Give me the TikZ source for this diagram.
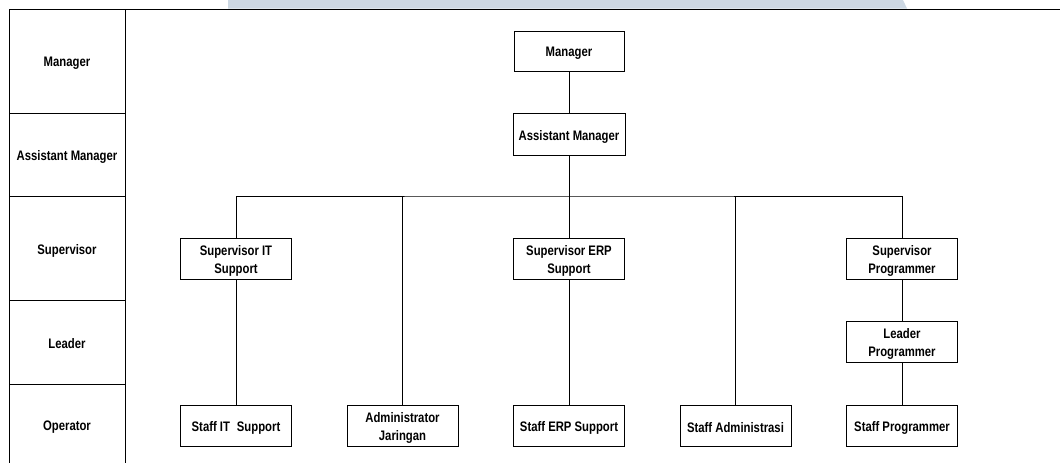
\documentclass[tikz,border=0pt]{standalone}
\usepackage{fontspec}
\setmainfont{Liberation Sans}[FakeStretch=0.82]
\begin{document}
\begin{tikzpicture}[x=1pt,y=-1pt,
  line width=0.8pt,
  box/.style={draw, line width=0.9pt, minimum width=111pt, minimum height=41pt, inner sep=0pt},
  lab/.style={inner sep=0pt, align=center, font=\fontsize{13.8}{18}\selectfont\bfseries},
  conn/.style={line width=0.8pt}]
\useasboundingbox (0,0) rectangle (1060,463);
% light band at top
\fill[fill={rgb,255:red,205;green,216;blue,227}] (228,0) -- (903,0) -- (907,8.5) -- (228,8.5) -- cycle;
% left level column
\draw[line width=1.1pt] (9,9.5) -- (1060,9.5);
\draw (9,9.5) -- (9,463);
\draw (125,9.5) -- (125,463);
\draw (9,113) -- (125,113);
\draw (9,196) -- (125,196);
\draw (9,300) -- (125,300);
\draw (9,384) -- (125,384);
\node[lab] (lmgr) at (67,63) {Manager};
\node[lab] (lasst) at (67,157) {Assistant Manager};
\node[lab] (lsup) at (67,251) {Supervisor};
\node[lab] (llead) at (67,344) {Leader};
\node[lab] (lop) at (67,427) {Operator};
% org chart boxes
\node[box, minimum width=110pt, minimum height=40pt] (mgr) at (569,51) {};
\node[box, minimum width=112pt, minimum height=42pt] (asst) at (569,134.5) {};
\node[box] (sit) at (236,259) {};
\node[box] (serp) at (569,259) {};
\node[box] (spg) at (902,259) {};
\node[box] (lpg) at (902,342) {};
\node[box] (stit) at (236,425.5) {};
\node[box] (adm) at (402.5,425.5) {};
\node[box] (sterp) at (569,425.5) {};
\node[box] (stadm) at (735.5,425.5) {};
\node[box] (stpg) at (902,425.5) {};
% box texts
\node[lab] (mgrt) at ([yshift=-2pt]mgr.center) {Manager};
\node[lab] (asstt) at ([yshift=-2pt]asst.center) {Assistant Manager};
\node[lab] (sitt) at ([yshift=-2pt]sit.center) {Supervisor IT\\Support};
\node[lab] (serpt) at ([yshift=-2pt]serp.center) {Supervisor ERP\\Support};
\node[lab] (spgt) at ([yshift=-2pt]spg.center) {Supervisor\\Programmer};
\node[lab] (lpgt) at ([yshift=-2pt]lpg.center) {Leader\\Programmer};
\node[lab] (stitt) at ([yshift=-2pt]stit.center) {Staff IT\enspace Support};
\node[lab] (admt) at ([yshift=-2pt]adm.center) {Administrator\\Jaringan};
\node[lab] (sterpt) at ([yshift=-2pt]sterp.center) {Staff ERP Support};
\node[lab] (stadmt) at ([yshift=-2pt]stadm.center) {Staff Administrasi};
\node[lab] (stpgt) at ([yshift=-2pt]stpg.center) {Staff Programmer};
% connectors
\coordinate (bus) at (569,196);
\draw[conn] (mgr) -- (asst);
\draw[conn] (asst.south) -- (bus);
\draw[conn] (sit.north) |- (bus) -| (spg.north);
\draw[conn] (adm.north) -- (adm.north |- bus);
\draw[conn] (stadm.north) -- (stadm.north |- bus);
\draw[conn] (bus) -- (serp.north);
\draw[conn] (sit) -- (stit);
\draw[conn] (serp) -- (sterp);
\draw[conn] (spg) -- (lpg);
\draw[conn] (lpg) -- (stpg);
\end{tikzpicture}
\end{document}
